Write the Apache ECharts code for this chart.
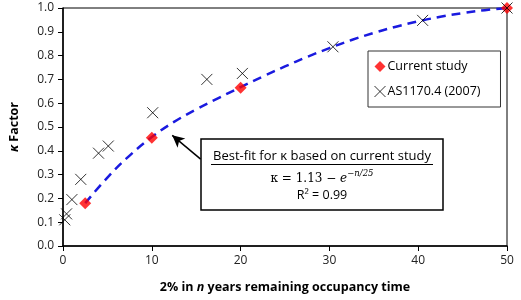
<!DOCTYPE html>
<html>
<head>
<meta charset="utf-8">
<script src="https://cdn.jsdelivr.net/npm/echarts@6/dist/echarts.min.js"></script>
<style>
    html, body { margin: 0; padding: 0; background: #fff; }
    #main { width: 521px; height: 300px; }
</style>
</head>
<body>
<div id="main"></div>
<script>
// current study points (red diamonds)
var currentX = [2.5, 10, 20, 50];
var currentY = [0.18, 0.455, 0.665, 1.0];
// AS1170.4 (2007) points (crosses)
var codeX = [0.2, 0.4, 1.0, 2.0, 4.0, 5.1, 10.1, 16.2, 20.2, 30.4, 40.5, 50];
var codeY = [0.11, 0.135, 0.195, 0.28, 0.39, 0.42, 0.56, 0.70, 0.725, 0.837, 0.948, 1.0];
// best-fit curve, every 2.5 years
var fitX = [2.5, 5, 7.5, 10, 12.5, 15, 17.5, 20, 22.5, 25, 27.5, 30, 32.5, 35, 37.5, 40, 42.5, 45, 47.5, 50];
var fitY = [0.18, 0.2875, 0.38, 0.4575, 0.5215, 0.574, 0.6215, 0.6675, 0.712, 0.7545, 0.7945, 0.8315, 0.8655, 0.8955, 0.9215, 0.944, 0.963, 0.9785, 0.991, 1.0];
var xTicks = [0, 10, 20, 30, 40, 50];
var yTicks = [0.0, 0.1, 0.2, 0.3, 0.4, 0.5, 0.6, 0.7, 0.8, 0.9, 1.0];

function pairs(xs, ys) {
    var out = [];
    for (var i = 0; i < xs.length; i++) {
        out.push([xs[i], ys[i]]);
    }
    return out;
}

var FONT = 'Open Sans';
var CROSS = 'path://M0,0L10,10M10,0L0,10';

var chart = echarts.init(document.getElementById('main'));
chart.setOption({
    animation: false,
    textStyle: { fontFamily: FONT, color: '#000' },
    grid: { left: 62, right: 14, top: 8, bottom: 54, show: true, borderColor: '#000', borderWidth: 1 },
    xAxis: {
        type: 'value',
        min: xTicks[0],
        max: xTicks[xTicks.length - 1],
        interval: 10,
        name: '2% in {i|n} years remaining occupancy time',
        nameLocation: 'middle',
        nameGap: 35,
        nameTextStyle: {
            fontFamily: FONT, fontSize: 12.5, fontWeight: 'bold', color: '#000',
            rich: { i: { fontFamily: FONT, fontSize: 12.5, fontWeight: 'bold', fontStyle: 'italic', color: '#000' } }
        },
        axisLine: { show: true, lineStyle: { color: '#000', width: 1.5 } },
        axisTick: { show: true, inside: false, length: 5, lineStyle: { color: '#000' } },
        axisLabel: { fontFamily: FONT, fontSize: 12, color: '#222', margin: 9 },
        splitLine: { show: false }
    },
    yAxis: {
        type: 'value',
        min: yTicks[0],
        max: yTicks[yTicks.length - 1],
        interval: 0.1,
        name: '{i|κ} Factor',
        nameLocation: 'middle',
        nameRotate: 90,
        nameGap: 42,
        nameTextStyle: {
            fontFamily: FONT, fontSize: 12.5, fontWeight: 'bold', color: '#000',
            rich: { i: { fontFamily: FONT, fontSize: 12.5, fontWeight: 'bold', fontStyle: 'italic', color: '#000' } }
        },
        axisLine: { show: true, lineStyle: { color: '#000', width: 1.5 } },
        axisTick: { show: true, inside: false, length: 5, lineStyle: { color: '#000' } },
        axisLabel: {
            fontFamily: FONT, fontSize: 12, color: '#222', margin: 9,
            formatter: function (v) { return v.toFixed(1); }
        },
        splitLine: { show: false }
    },
    legend: {
        orient: 'vertical',
        left: 368,
        top: 51,
        width: 126,
        padding: [9, 20, 9, 6],
        itemGap: 12,
        itemWidth: 11,
        itemHeight: 11,
        borderColor: '#333',
        borderWidth: 1,
        backgroundColor: '#fff',
        textStyle: { fontFamily: FONT, fontSize: 12.5, color: '#000', padding: [0, 0, 0, -3] },
        data: [
            { name: 'Current study', icon: 'diamond', itemStyle: { color: '#ff0000' } },
            { name: 'AS1170.4 (2007)', icon: CROSS, itemStyle: { color: 'rgba(0,0,0,0)', borderColor: '#000', borderWidth: 1 } }
        ]
    },
    series: [
        {
            name: 'Best fit',
            type: 'line',
            data: pairs(fitX, fitY),
            smooth: 0.4,
            showSymbol: false,
            symbol: 'none',
            z: 2,
            lineStyle: { color: '#1a1adf', width: 2.5, type: [9, 6] },
            markLine: {
                silent: true,
                symbol: ['none', 'arrow'],
                symbolSize: [9, 12],
                label: { show: false },
                lineStyle: { color: '#000', width: 1.5, type: 'solid' },
                data: [[{ coord: [15.5, 0.365] }, { coord: [12.3, 0.465] }]]
            }
        },
        {
            name: 'Current study',
            type: 'scatter',
            data: pairs(currentX, currentY),
            symbol: 'diamond',
            symbolSize: 12,
            z: 3,
            itemStyle: { color: '#ff0000' }
        },
        {
            name: 'AS1170.4 (2007)',
            type: 'scatter',
            data: pairs(codeX, codeY),
            symbol: CROSS,
            symbolSize: 11,
            z: 4,
            itemStyle: { color: 'rgba(0,0,0,0)', borderColor: '#000', borderWidth: 1 }
        }
    ],
    graphic: [
        {
            type: 'rect',
            z: 10,
            shape: { x: 201, y: 139, width: 242, height: 71 },
            style: { fill: '#fff', stroke: '#000', lineWidth: 1.5 }
        },
        {
            type: 'text',
            z: 11,
            x: 322, y: 156,
            style: {
                text: 'Best-fit for κ based on current study',
                fontFamily: FONT, fontSize: 13, fill: '#000',
                align: 'center', verticalAlign: 'middle'
            }
        },
        {
            type: 'line',
            z: 11,
            shape: { x1: 211, y1: 164.5, x2: 433, y2: 164.5 },
            style: { stroke: '#000', lineWidth: 1 }
        },
        {
            type: 'text',
            z: 11,
            x: 322, y: 177,
            style: {
                text: '{b|κ = 1.13 − }{e|e}{s|−n/25}',
                align: 'center', verticalAlign: 'middle',
                rich: {
                    b: { fontFamily: 'DejaVu Serif', fontSize: 12, fill: '#000', lineHeight: 16, verticalAlign: 'bottom' },
                    e: { fontFamily: 'DejaVu Serif', fontSize: 12, fontStyle: 'italic', fill: '#000', lineHeight: 16, verticalAlign: 'bottom' },
                    s: { fontFamily: 'DejaVu Serif', fontSize: 8.5, fontStyle: 'italic', fill: '#000', lineHeight: 16, verticalAlign: 'top' }
                }
            }
        },
        {
            type: 'text',
            z: 11,
            x: 322, y: 195,
            style: {
                text: 'R² = 0.99',
                fontFamily: FONT, fontSize: 12.5, fill: '#000',
                align: 'center', verticalAlign: 'middle'
            }
        }
    ]
});
</script>
</body>
</html>
